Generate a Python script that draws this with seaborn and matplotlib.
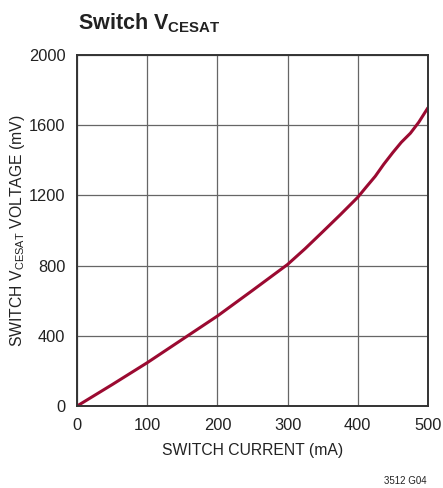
import numpy as np
import pandas as pd
import matplotlib
matplotlib.use("Agg")
import matplotlib.pyplot as plt
import seaborn as sns

# switch current (mA) vs switch VCESAT (mV)
current = [0, 50, 100, 150, 200, 250, 300, 325, 350, 375, 400, 412, 425,
           437, 450, 462, 475, 487, 500]
vcesat = [0, 122, 247, 380, 513, 659, 807, 897, 993, 1090, 1190, 1248, 1310,
          1378, 1445, 1503, 1555, 1618, 1700]
xticks = [0, 100, 200, 300, 400, 500]
yticks = [0, 400, 800, 1200, 1600, 2000]

df = pd.DataFrame({"current": current, "vcesat": vcesat})

sns.set_style("white")
plt.rcParams['font.family'] = ['Liberation Sans', 'DejaVu Sans']
plt.rcParams['mathtext.fontset'] = 'custom'
plt.rcParams['mathtext.rm'] = 'Liberation Sans'

fig = plt.figure(figsize=(4.43, 4.88), dpi=100)
ax = fig.add_axes([0.174, 0.168, 0.792, 0.719])

sns.lineplot(data=df, x="current", y="vcesat", ax=ax, color="#9b0a31", linewidth=2.2)

ax.set_xlim(0, 500)
ax.set_ylim(0, 2000)
ax.set_xticks(xticks)
ax.set_yticks(yticks)
ax.tick_params(length=0, labelsize=11.8, colors="#222222", pad=8.5)
ax.grid(True, color="#666666", linewidth=0.9)
for s in ax.spines.values():
    s.set_color("#333333")
    s.set_linewidth(1.4)

ax.set_xlabel("SWITCH CURRENT (mA)", fontsize=11.3, color="#222222", labelpad=7)
ax.set_ylabel(r"SWITCH V$_\mathregular{CESAT}$ VOLTAGE (mV)", fontsize=11.3,
              color="#222222", labelpad=1)

fig.text(0.176, 0.952, r"Switch V$_\mathregular{CESAT}$", fontsize=15.5,
         fontweight="bold", color="#222222", ha="left", va="center")
fig.text(0.963, 0.004, "3512 G04", fontsize=7, color="#222222", ha="right", va="bottom")

plt.savefig("out.png", dpi=100)
